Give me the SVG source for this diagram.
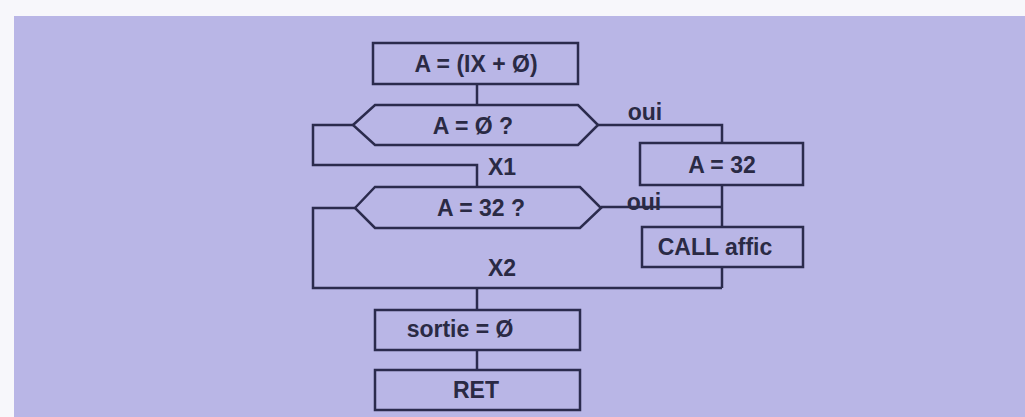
<svg xmlns="http://www.w3.org/2000/svg" width="1025" height="417" viewBox="0 0 1025 417">
<style>
.box{fill:none;stroke:#2b2b4d;stroke-width:2.5}
.ln{fill:none;stroke:#2b2b4d;stroke-width:2.5}
.t{font-family:"Liberation Sans","DejaVu Sans",sans-serif;font-size:23px;font-weight:bold;fill:#2a2a44;text-anchor:middle}
</style>
<rect x="0" y="0" width="1025" height="417" fill="#f7f7fb"/>
<rect x="14" y="16" width="1011" height="401" fill="#b9b6e6"/>
<g id="connectors">
<path class="ln" d="M477 84 V105"/>
<path class="ln" d="M353 125 H313 V165 H477 V187"/>
<path class="ln" d="M355 208 H313 V288 H722"/>
<path class="ln" d="M597 125 H722 V143"/>
<path class="ln" d="M722 185 V227"/>
<path class="ln" d="M601 207 H722"/>
<path class="ln" d="M722 267 V288"/>
<path class="ln" d="M477 288 V310"/>
<path class="ln" d="M477 350 V370"/>
</g>
<g id="n1"><rect class="box" x="373" y="43" width="205" height="41"/><text class="t" x="476" y="72">A = (IX + Ø)</text></g>
<g id="n2"><polygon class="box" points="353,125 375,105 578,105 598,125 578,145 375,145"/><text class="t" x="473" y="134">A = Ø ?</text></g>
<g id="n3"><polygon class="box" points="355,208 375,187 580,187 601,208 580,228 375,228"/><text class="t" x="481" y="216">A = 32 ?</text></g>
<g id="n4"><rect class="box" x="640" y="143" width="163" height="42"/><text class="t" x="722" y="173">A = 32</text></g>
<g id="n5"><rect class="box" x="642" y="227" width="161" height="40"/><text class="t" x="715" y="255">CALL affic</text></g>
<g id="n6"><rect class="box" x="375" y="310" width="205" height="40"/><text class="t" x="460" y="337">sortie = Ø</text></g>
<g id="n7"><rect class="box" x="375" y="370" width="205" height="40"/><text class="t" x="476" y="398">RET</text></g>
<text class="t" x="645" y="120">oui</text>
<text class="t" x="644" y="210">oui</text>
<text class="t" x="502" y="175">X1</text>
<text class="t" x="502" y="276">X2</text>
</svg>
